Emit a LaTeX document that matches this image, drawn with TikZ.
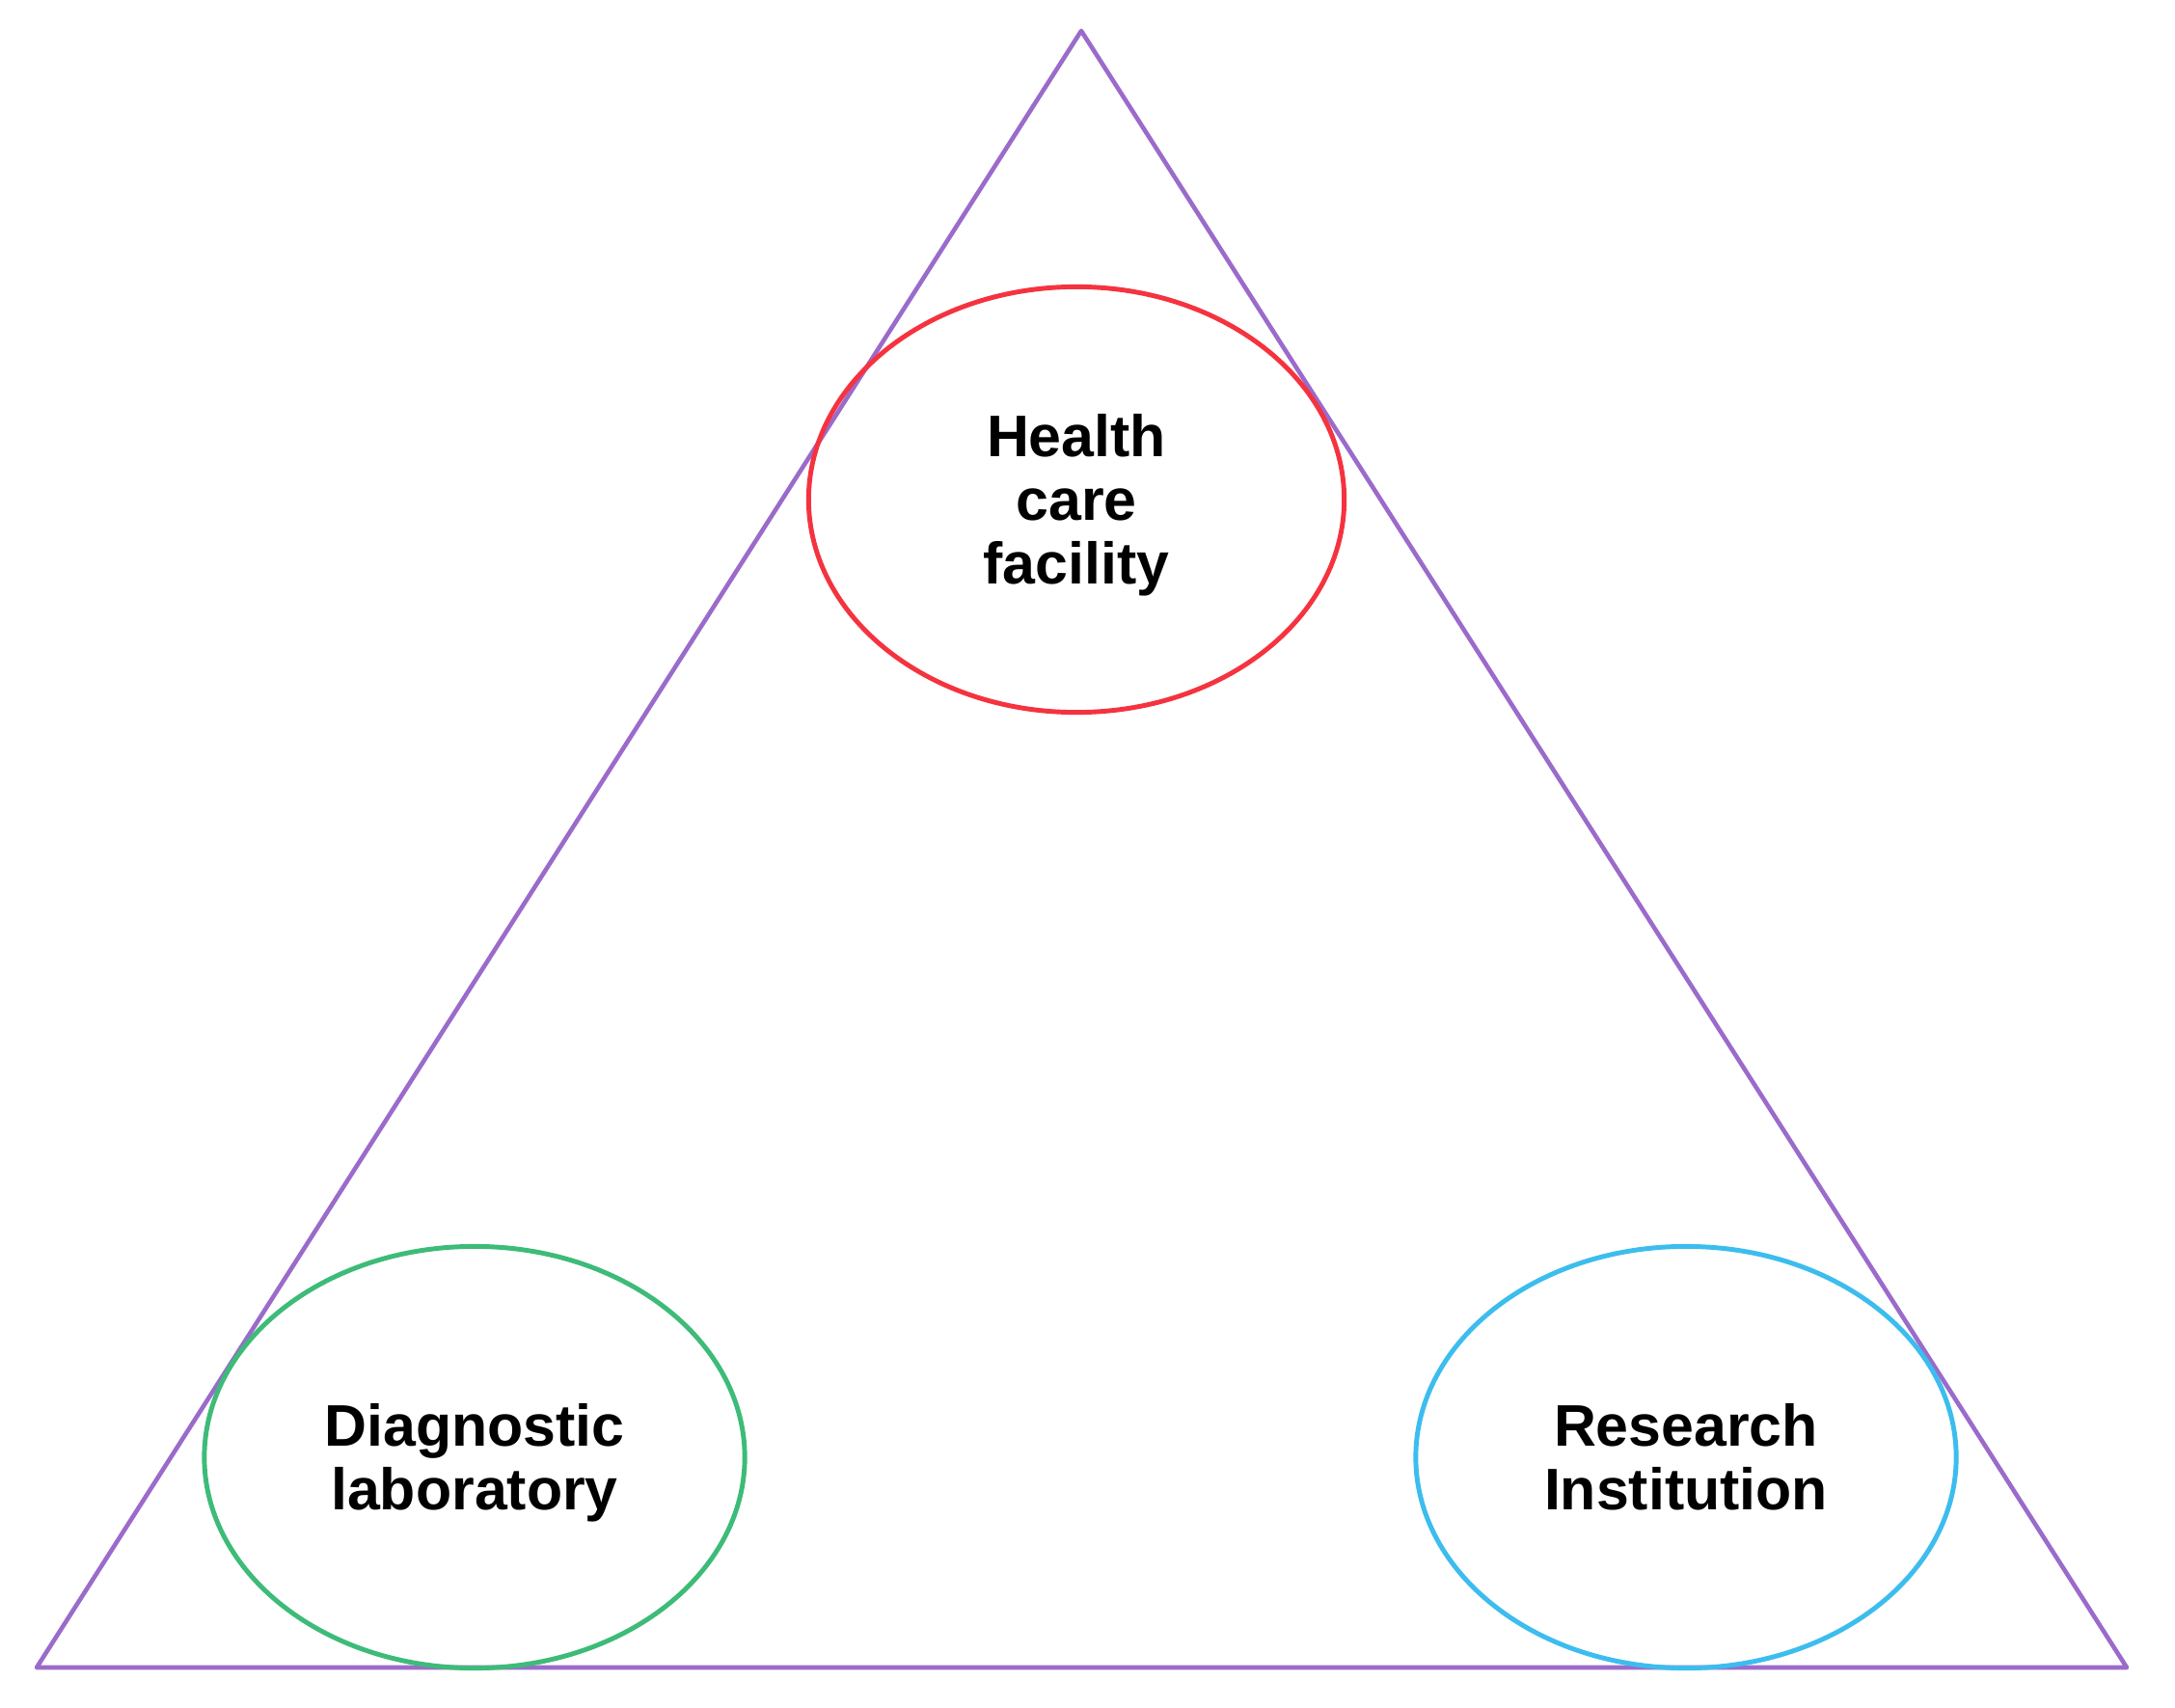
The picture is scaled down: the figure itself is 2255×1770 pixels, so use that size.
\documentclass[tikz,border=0pt]{standalone}
\usepackage{fontspec}
\setmainfont{Liberation Sans}
\usetikzlibrary{shapes.geometric}
\definecolor{tripurple}{HTML}{9B6BCB}
\definecolor{hred}{HTML}{F5333F}
\definecolor{dgreen}{HTML}{3DBB78}
\definecolor{rblue}{HTML}{3CBDEE}
\begin{document}
\begin{tikzpicture}[x=0.01cm,y=-0.01cm,
  oval/.style={ellipse, draw, line width=1.4pt, inner sep=0pt},
  lbl/.style={align=center, font=\fontsize{17.3}{18.7}\selectfont\bfseries, text=black}]
\useasboundingbox (0,0) rectangle (2255,1770);
\fill[white] (0,0) rectangle (2255,1770);
\coordinate (apex) at (1121,32);
\coordinate (bl) at (38,1729);
\coordinate (br) at (2205,1729);
\draw[tripurple, line width=1.3pt, line join=round] (apex) -- (bl) -- (br) -- cycle;
\node[oval, hred, minimum width=5.55cm, minimum height=4.41cm] (hcf) at (1116,518) {};
\node[oval, dgreen, minimum width=5.6cm, minimum height=4.37cm] (dl) at (492,1511) {};
\node[oval, rblue, minimum width=5.6cm, minimum height=4.37cm] (ri) at (1748,1511) {};
\node[lbl, yshift=-0.06cm] (hcft) at (hcf.center) {Health\\care\\facility};
\node[lbl, yshift=-0.06cm] (dlt) at (dl.center) {Diagnostic\\laboratory};
\node[lbl] (rit) at (ri.center) {Research\\Institution};
\end{tikzpicture}
\end{document}
